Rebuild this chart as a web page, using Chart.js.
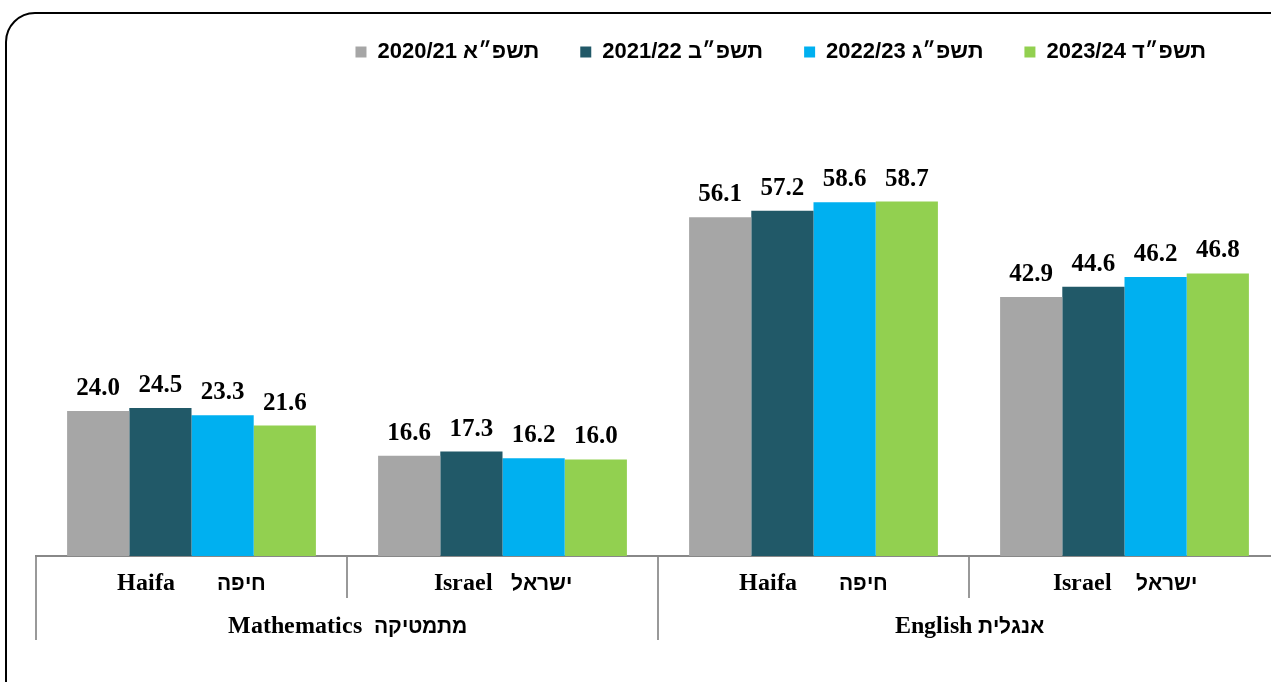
<!DOCTYPE html>
<html>
<head>
<meta charset="utf-8">
<script src="https://cdn.jsdelivr.net/npm/chart.js@4.4.1/dist/chart.umd.min.js"></script>
<style>
  @font-face { font-family:'AxisMix'; font-weight:bold; src: local('Liberation Serif Bold'), local('LiberationSerif-Bold'); unicode-range: U+0000-024F; }
  @font-face { font-family:'AxisMix'; font-weight:bold; src: local('Liberation Sans Bold'), local('LiberationSans-Bold'); unicode-range: U+0590-05FF; size-adjust: 86%; }
  html, body { margin:0; padding:0; overflow:hidden; background:#fff; width:1271px; height:682px; }
  #wrap { position:absolute; left:0; top:0; width:1300px; height:682px; }
  #frame { position:absolute; left:5px; top:12px; width:1320px; height:700px; border:2px solid #000; border-radius:30px; pointer-events:none; }
</style>
</head>
<body>
<div id="wrap"><canvas id="chart"></canvas></div>
<div id="frame"></div>
<script>
/* === DATA === */
const subLabels = ["Haifa       חיפה", "Israel   ישראל", "Haifa       חיפה", "Israel    ישראל"];
const groupLabels = ["Mathematics  מתמטיקה", "English אנגלית"];
const seriesNames = ["2020/21 תשפ״א", "2021/22 תשפ״ב", "2022/23 תשפ״ג", "2023/24 תשפ״ד"];
const values2021 = [24.0, 16.6, 56.1, 42.9];
const values2122 = [24.5, 17.3, 57.2, 44.6];
const values2223 = [23.3, 16.2, 58.6, 46.2];
const values2324 = [21.6, 16.0, 58.7, 46.8];
const seriesColors = ["#A6A6A6", "#215968", "#00B0F0", "#92D050"];

const allValues = [values2021, values2122, values2223, values2324];

/* === VALUE LABELS === */
const valueLabels = {
  id: "valueLabels",
  afterDatasetsDraw(chart){
    const ctx = chart.ctx;
    ctx.save();
    ctx.font = "bold 25px 'Liberation Serif', serif";
    ctx.fillStyle = "#000";
    ctx.textAlign = "center";
    ctx.textBaseline = "alphabetic";
    chart.data.datasets.forEach((ds, i) => {
      chart.getDatasetMeta(i).data.forEach((bar, j) => {
        ctx.fillText(ds.data[j].toFixed(1), bar.x, bar.y - 16);
      });
    });
    ctx.restore();
  }
};

/* nudge legend to the left, like the original */
const legendShift = {
  id: "legendShift",
  afterLayout(chart){
    if(chart.legend){ chart.legend.left -= 33; chart.legend.right -= 33; }
  }
};

const axisFont = { family: "'AxisMix', 'Liberation Serif', serif", size: 24, weight: "bold" };

function drawChart(){
  new Chart(document.getElementById("chart"), {
    type: "bar",
    data: {
      labels: subLabels,
      datasets: seriesNames.map((name, i) => ({
        label: name,
        data: allValues[i],
        backgroundColor: seriesColors[i],
        borderWidth: 0,
        categoryPercentage: 0.8,
        barPercentage: 1.0
      }))
    },
    options: {
      responsive: true,
      maintainAspectRatio: false,
      animation: false,
      layout: { padding: { left: 36, right: 20, top: 0, bottom: 42 } },
      plugins: {
        tooltip: { enabled: false },
        legend: {
          position: "top",
          align: "end",
          labels: {
            color: "#000",
            boxWidth: 11, boxHeight: 11,
            padding: 41,
            font: { family: "'Liberation Sans', Arial, sans-serif", size: 22, weight: "bold" }
          }
        }
      },
      scales: {
        y: { display: false, min: 0, max: 80 },
        x: {
          position: "bottom",
          offset: true,
          afterFit: s => { s.height = 42; },
          grid: { offset: true, drawOnChartArea: false, drawTicks: true, tickLength: 42, color: "#999", lineWidth: 2 },
          border: { display: true, color: "#888", width: 2 },
          ticks: { color: "#000", font: axisFont, padding: -29, maxRotation: 0, autoSkip: false }
        },
        x2: {
          type: "category",
          position: "bottom",
          labels: groupLabels,
          offset: true,
          afterFit: s => { s.height = 42; },
          grid: { offset: true, drawOnChartArea: false, drawTicks: true, tickLength: 42, color: "#999", lineWidth: 2 },
          border: { display: false },
          ticks: { color: "#000", font: axisFont, padding: -28, maxRotation: 0, autoSkip: false }
        }
      }
    },
    plugins: [valueLabels, legendShift]
  });
}

document.fonts.load("bold 24px AxisMix", "Haifa חיפה").then(drawChart, drawChart);
</script>
</body>
</html>
